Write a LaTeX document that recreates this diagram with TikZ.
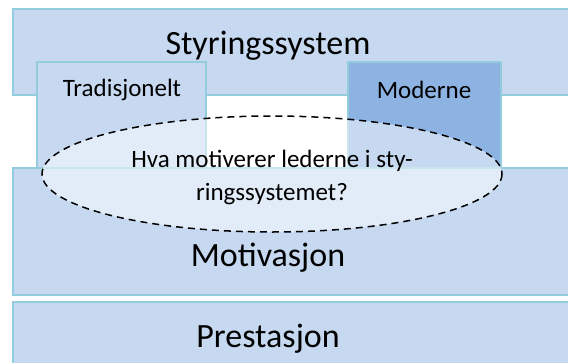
\documentclass[tikz,border=0pt]{standalone}
\usepackage{fontspec}
\setmainfont{Carlito}
\definecolor{lysblaa}{HTML}{C6D9F1}
\definecolor{moerkblaa}{HTML}{8DB3E2}
\definecolor{kant}{HTML}{93CDDD}
\tikzset{boks/.style={fill=lysblaa,draw=kant,line width=1.6pt},
    stor/.style={font=\fontsize{34}{40}\selectfont},
    liten/.style={font=\fontsize{25}{33}\selectfont}}
\begin{document}
\begin{tikzpicture}[x=1pt,y=-1pt]
            \useasboundingbox (0,0) rectangle (568,362);
            \draw [boks] (13,9) rectangle (580,95);
            \draw [boks] (37,62) rectangle (206,168);
            \draw [boks,fill=moerkblaa] (348,62) rectangle (501,168);
            \draw [boks] (13,168) rectangle (580,295);
            \draw [boks] (13,302) rectangle (580,372);
            \draw [line width=1.5pt,fill=white,fill opacity=0.5,dash pattern=on 7pt off 5pt] (272,174) ellipse [x radius=230,y radius=58];%Spoersmaal
            \node (sty) at (268,46) [stor] {Styringssystem};
            \node (trad) at (122,90) [liten] {Tradisjonelt};
            \node (mod) at (424,90) [liten] {Moderne};
            \node (hva) at (272,177) [liten,align=center] {Hva motiverer lederne i sty-\\ringssystemet?};
            \node (mot) at (268,258) [stor] {Motivasjon};
            \node (pre) at (268,339) [stor] {Prestasjon};
        \end{tikzpicture}
\end{document}
